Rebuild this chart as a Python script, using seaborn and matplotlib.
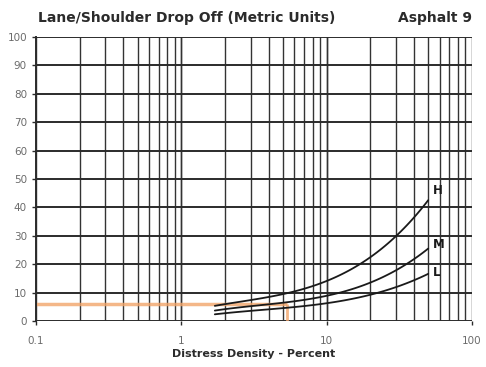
import numpy as np
import pandas as pd
import matplotlib
matplotlib.use("Agg")
import matplotlib.pyplot as plt
import seaborn as sns

# curve values (density %, deduct value)
density = [1.7, 3.0, 5.3, 10, 20, 30, 40, 50]
deduct_h = [5.5, 7.0, 9.8, 14.4, 22.6, 29.7, 36.0, 43.0]
deduct_m = [3.9, 4.8, 6.3, 9.8, 13.4, 17.4, 21.5, 26.0]
deduct_l = [2.5, 3.3, 4.5, 6.8, 9.2, 11.6, 14.2, 16.9]
severity = ["H", "M", "L"]
label_y = [46, 27, 17]

example_density = 5.3
example_deduct = 6.0

sns.set_style("white")
plt.rcParams["font.family"] = ["DejaVu Sans"]

rows = []
for sev, vals in zip(severity, [deduct_h, deduct_m, deduct_l]):
    for d, v in zip(density, vals):
        rows.append({"density": d, "deduct": v, "severity": sev})
df = pd.DataFrame(rows)

fig = plt.figure(figsize=(4.86, 3.67), dpi=100)
ax = fig.add_axes([36 / 486, 1 - 321 / 367, 436 / 486, 284 / 367])
ax.set_xscale("log")
ax.set_xlim(0.1, 100)
ax.set_ylim(0, 100)

# grid
for dec in [0.1, 1, 10]:
    for k in range(1, 11):
        ax.axvline(dec * k, color="#333333", lw=1.0, zorder=1)
for yv in range(0, 101, 10):
    ax.axhline(yv, color="#2b2b2b", lw=1.4, zorder=1)

# example lookup lines
ax.plot([0.1, example_density], [example_deduct, example_deduct],
        color="#f2a56a", lw=2.5, alpha=0.8, zorder=2, solid_capstyle="butt")
ax.plot([example_density, example_density], [0, example_deduct],
        color="#f2a56a", lw=2.0, alpha=0.8, zorder=2, solid_capstyle="butt")

# smooth curves through the read points
smooth = []
for sev, g in df.groupby("severity"):
    lx = np.log10(g["density"].values)
    xs = np.linspace(lx.min(), lx.max(), 80)
    p = np.polyfit(lx, g["deduct"].values, 3)
    smooth.append(pd.DataFrame({"density": 10 ** xs, "deduct": np.polyval(p, xs), "severity": sev}))
sm = pd.concat(smooth)
sns.lineplot(data=sm, x="density", y="deduct", hue="severity",
             palette={"H": "#1a1a1a", "M": "#1a1a1a", "L": "#1a1a1a"},
             lw=1.3, legend=False, ax=ax, zorder=3, sort=False)

for sev, ly in zip(severity, label_y):
    ax.text(density[-1] * 1.08, ly, sev, fontsize=8.5, fontweight="bold",
            color="#1a1a1a", ha="left", va="center")

for s in ["top", "right", "bottom"]:
    ax.spines[s].set_visible(False)
ax.spines["left"].set_color("#2b2b2b")
ax.spines["left"].set_linewidth(1.4)

ax.set_yticks(range(0, 101, 10))
ax.set_xticks([0.1, 1, 10, 100])
ax.set_xticklabels(["0.1", "1", "10", "100"])
ax.xaxis.set_minor_locator(matplotlib.ticker.NullLocator())
ax.tick_params(axis="both", labelsize=7.5, colors="#2b2b2b", labelcolor="#6b6b6b",
               length=3, width=1, direction="out", left=True, bottom=True)
ax.tick_params(axis="x", pad=8)
ax.set_xlabel("Distress Density - Percent", fontsize=8, fontweight="bold",
              color="#2b2b2b", labelpad=2)
ax.set_ylabel("")

fig.text(38 / 486, 1 - 18 / 367, "Lane/Shoulder Drop Off (Metric Units)",
         fontsize=10, fontweight="bold", color="#2b2b2b", va="center", ha="left")
fig.text(472 / 486, 1 - 18 / 367, "Asphalt 9",
         fontsize=10, fontweight="bold", color="#2b2b2b", va="center", ha="right")

fig.savefig("out.png", dpi=100)
